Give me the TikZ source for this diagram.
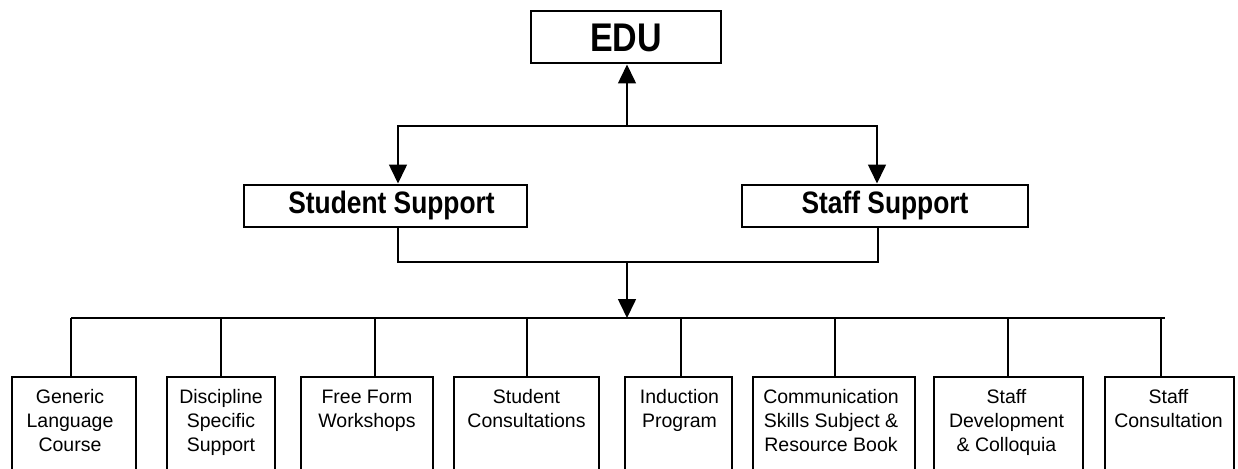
\documentclass[tikz,border=0pt]{standalone}
\usepackage{fontspec}
\setmainfont{Liberation Sans}
\newfontfamily\narrowfont[FakeStretch=0.85]{Liberation Sans}
\usetikzlibrary{arrows.meta}
\begin{document}
\begin{tikzpicture}[x=1pt,y=-1pt,
  conn/.style={line width=1.6pt},
  arr/.style={conn,-{Triangle[length=19pt,width=18pt]}},
  topbox/.style={draw,line width=2pt,inner sep=0pt},
  botbox/.style={draw,line width=1.7pt,anchor=north,minimum height=130pt,inner sep=0pt},
  bottext/.style={anchor=north,align=center,inner sep=0pt,font=\fontsize{19.5}{24}\selectfont}]
\useasboundingbox (0,0) rectangle (1238,468);
\clip (0,0) rectangle (1238,468);

% top level
\node[topbox,minimum width=190pt,minimum height=52pt,font=\narrowfont\bfseries\fontsize{40}{40}\selectfont] (edu) at (626,37.5) {EDU};
\node[topbox,minimum width=283pt,minimum height=42pt,font=\narrowfont\bfseries\fontsize{31}{31}\selectfont] (ss) at (385.5,205.5) {\hspace*{12pt}Student Support};
\node[topbox,minimum width=286pt,minimum height=42pt,font=\narrowfont\bfseries\fontsize{31}{31}\selectfont] (st) at (885,205.5) {Staff Support};

\coordinate (j1) at (627,126);
\coordinate (j2) at (627,262);
\coordinate (j3) at (627,318);
\coordinate (busL) at (71,318);
\coordinate (busR) at (1165,318);

\draw[arr] (j1) -- (edu.south -| j1);
\draw[arr] (j1) -| ([xshift=12.5pt]ss.north);
\draw[arr] (j1) -| ([xshift=-8pt]st.north);
\draw[conn] ([xshift=12.5pt]ss.south) |- (j2) -| ([xshift=-7pt]st.south);
\draw[arr] (j2) -- (j3);
\draw[conn] (busL) -- (busR);

% bottom boxes
\node[botbox,minimum width=124pt] (b1) at (74,376) {};
\node[botbox,minimum width=108pt] (b2) at (221,376) {};
\node[botbox,minimum width=132pt] (b3) at (367,376) {};
\node[botbox,minimum width=145pt] (b4) at (526.5,376) {};
\node[botbox,minimum width=107pt] (b5) at (678.5,376) {};
\node[botbox,minimum width=162pt] (b6) at (834,376) {};
\node[botbox,minimum width=149pt] (b7) at (1008.5,376) {};
\node[botbox,minimum width=129pt] (b8) at (1169.5,376) {};

\node[bottext] (t1) at ([xshift=-4pt,yshift=-13.5pt]b1.north) {Generic\\Language\\Course};
\node[bottext] (t2) at ([yshift=-13.5pt]b2.north) {Discipline\\Specific\\Support};
\node[bottext] (t3) at ([yshift=-13.5pt]b3.north) {Free Form\\Workshops};
\node[bottext] (t4) at ([yshift=-13.5pt]b4.north) {Student\\Consultations};
\node[bottext] (t5) at ([xshift=1pt,yshift=-13.5pt]b5.north) {Induction\\Program};
\node[bottext] (t6) at ([xshift=-3pt,yshift=-13.5pt]b6.north) {Communication\\Skills Subject \&\\Resource Book};
\node[bottext] (t7) at ([xshift=-2pt,yshift=-13.5pt]b7.north) {Staff\\Development\\\& Colloquia};
\node[bottext] (t8) at ([xshift=-1pt,yshift=-13.5pt]b8.north) {Staff\\Consultation};

% drops from bus
\draw[conn] ([xshift=-3pt]b1.north) -- ([xshift=-3pt]b1.north |- busL);
\draw[conn] (b2.north) -- (b2.north |- busL);
\draw[conn] ([xshift=8pt]b3.north) -- ([xshift=8pt]b3.north |- busL);
\draw[conn] ([xshift=0.5pt]b4.north) -- ([xshift=0.5pt]b4.north |- busL);
\draw[conn] ([xshift=2.5pt]b5.north) -- ([xshift=2.5pt]b5.north |- busL);
\draw[conn] ([xshift=1pt]b6.north) -- ([xshift=1pt]b6.north |- busL);
\draw[conn] ([xshift=-0.5pt]b7.north) -- ([xshift=-0.5pt]b7.north |- busL);
\draw[conn] ([xshift=-8.5pt]b8.north) -- ([xshift=-8.5pt]b8.north |- busL);
\end{tikzpicture}
\end{document}
